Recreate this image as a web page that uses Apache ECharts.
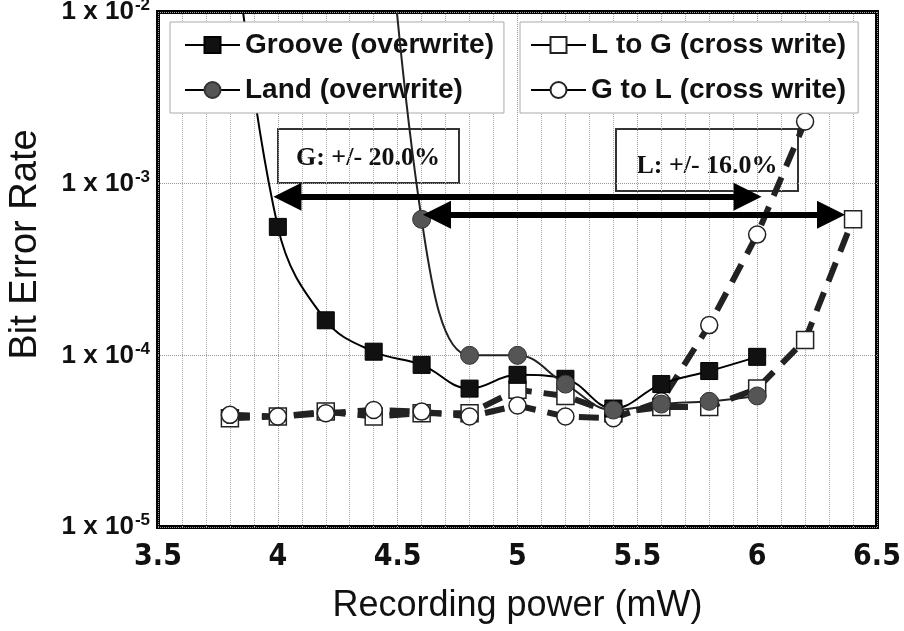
<!DOCTYPE html>
<html>
<head>
<meta charset="utf-8">
<script src="https://cdn.jsdelivr.net/npm/echarts@6/dist/echarts.min.js"></script>
<style>
  html, body { margin: 0; padding: 0; background: #fff; }
  #chart { width: 904px; height: 631px; }
</style>
</head>
<body>
<div id="chart"></div>
<script>
// recording power (mW), one entry per measured step
const power = [3.8, 4.0, 4.2, 4.4, 4.6, 4.8, 5.0, 5.2, 5.4, 5.6, 5.8, 6.0, 6.2, 6.4];

// bit error rates read off the plot (null = not measured)
// first points of the overwrite curves lie above the top of the axis
const grooveBer = [5e-2, 5.6e-4, 1.6e-4, 1.05e-4, 8.8e-5, 6.4e-5, 7.7e-5, 7.3e-5, 4.9e-5, 6.8e-5, 8.1e-5, 9.8e-5, null, null];
const landBer   = [null, null, null, 5e-1, 6.2e-4, 1.0e-4, 1.0e-4, 6.8e-5, 4.8e-5, 5.2e-5, 5.4e-5, 5.8e-5, null, null];
const lToGBer   = [4.3e-5, 4.4e-5, 4.7e-5, 4.4e-5, 4.6e-5, 4.6e-5, 6.3e-5, 5.8e-5, 4.6e-5, 5.0e-5, 5.0e-5, 6.4e-5, 1.23e-4, 6.2e-4];
const gToLBer   = [4.5e-5, 4.4e-5, 4.6e-5, 4.8e-5, 4.7e-5, 4.4e-5, 5.1e-5, 4.4e-5, 4.3e-5, 5.4e-5, 1.5e-4, 5.05e-4, 2.3e-3, null];

const threshold = 5e-4;

// power margin arrows: [from, to, ber]
const grooveMargin = [4.04, 5.96, 8.4e-4];
const landMargin = [4.664, 6.308, 6.6e-4];

// log minor grid: 2..9 x each decade
const decades = [1e-5, 1e-4, 1e-3];
const minorLevels = [];
decades.forEach(d => { for (let k = 2; k <= 9; k++) minorLevels.push(k * d); });

function pairs(values) {
  const out = [];
  values.forEach((v, i) => { if (v != null) out.push([power[i], v]); });
  return out;
}

const FONT = "'Liberation Sans', Arial, sans-serif";

const chart = echarts.init(document.getElementById('chart'));

const option = {
  animation: false,
  backgroundColor: '#fff',
  grid: {
    left: 158, top: 12, width: 719, height: 515,
    outerBoundsMode: 'none', containLabel: false,
    show: true, borderColor: '#000', borderWidth: 4, backgroundColor: 'transparent'
  },
  legend: [
    {
      orient: 'vertical', left: 170, top: 22,
      padding: [9, 10, 9, 14], itemGap: 17,
      itemWidth: 55, itemHeight: 20, itemTextGap: 8,
      backgroundColor: '#fff', borderColor: '#aaa', borderWidth: 1,
      selectedMode: false,
      textStyle: { fontFamily: FONT, fontWeight: 'bold', fontSize: 28, color: '#111' },
      lineStyle: { type: 'solid', width: 2, color: '#000' },
      data: ['Groove (overwrite)', 'Land (overwrite)']
    },
    {
      orient: 'vertical', left: 520, top: 22,
      padding: [9, 12, 9, 10], itemGap: 17,
      itemWidth: 55, itemHeight: 20, itemTextGap: 8,
      backgroundColor: '#fff', borderColor: '#aaa', borderWidth: 1,
      selectedMode: false,
      textStyle: { fontFamily: FONT, fontWeight: 'bold', fontSize: 28, color: '#111' },
      lineStyle: { type: 'solid', width: 2, color: '#000' },
      data: ['L to G (cross write)', 'G to L (cross write)']
    }
  ],
  xAxis: {
    type: 'value', min: 3.5, max: 6.5, interval: 0.5,
    name: 'Recording power (mW)', nameLocation: 'middle', nameGap: 61,
    nameTextStyle: { fontFamily: FONT, fontSize: 36, color: '#111' },
    axisLine: { show: false },
    axisTick: { show: false },
    axisLabel: {
      margin: 15, color: '#111', fontSize: 30, fontWeight: 'bold',
      fontFamily: "'DejaVu Sans Condensed', " + FONT
    },
    splitLine: { lineStyle: { color: '#999', type: 'dotted', width: 1 } },
    minorTick: { show: false, splitNumber: 5 },
    minorSplitLine: { show: true, lineStyle: { color: '#aaa', type: 'dotted', width: 1 } }
  },
  yAxis: {
    type: 'log', logBase: 10, min: 1e-5, max: 1e-2,
    name: 'Bit Error Rate', nameLocation: 'middle', nameGap: 113,
    nameTextStyle: { fontFamily: FONT, fontSize: 38, color: '#111', padding: [0, 0, 0, 50] },
    axisLine: { show: false },
    axisTick: { show: false },
    axisLabel: {
      margin: 8, color: '#111',
      formatter: v => '{a|1 x 10}{b|' + Math.round(Math.log10(v)) + '}',
      rich: {
        a: { fontFamily: FONT, fontSize: 26, fontWeight: 'bold', color: '#111', lineHeight: 30 },
        b: { fontFamily: FONT, fontSize: 17, fontWeight: 'bold', color: '#111', verticalAlign: 'top', lineHeight: 30, padding: [0, 0, 10, 1] }
      }
    },
    splitLine: { lineStyle: { color: '#999', type: 'dotted', width: 1 } }
  },
  series: [
    {
      name: 'L to G (cross write)', type: 'line', z: 2,
      data: pairs(lToGBer),
      symbol: 'rect', symbolSize: 17,
      itemStyle: { color: '#fff', borderColor: '#222', borderWidth: 1.5 },
      lineStyle: { color: '#222', width: 6, type: [20, 12] },
      markLine: {
        silent: true, symbol: 'none', label: { show: false },
        lineStyle: { color: '#aaa', type: 'dotted', width: 1 },
        data: minorLevels.map(v => ({ yAxis: v }))
      }
    },
    {
      name: 'G to L (cross write)', type: 'line', z: 2,
      data: pairs(gToLBer),
      symbol: 'circle', symbolSize: 17,
      itemStyle: { color: '#fff', borderColor: '#222', borderWidth: 1.5 },
      lineStyle: { color: '#222', width: 6, type: [20, 12] },
      markLine: {
        silent: true, symbol: 'none', label: { show: false },
        lineStyle: { color: '#222', type: 'solid', width: 2.5 },
        data: [{ yAxis: threshold }]
      }
    },
    {
      name: 'Groove (overwrite)', type: 'line', z: 3, smooth: 0.4,
      data: pairs(grooveBer),
      symbol: 'rect', symbolSize: 17,
      itemStyle: { color: '#111', borderColor: '#000', borderWidth: 1 },
      lineStyle: { color: '#000', width: 2 },
      markLine: {
        silent: true, symbol: ['triangle', 'triangle'], symbolSize: 28,
        label: { show: false },
        lineStyle: { color: '#000', type: 'solid', width: 6 },
        data: [
          [{ coord: [grooveMargin[0], grooveMargin[2]] }, { coord: [grooveMargin[1], grooveMargin[2]] }],
          [{ coord: [landMargin[0], landMargin[2]] }, { coord: [landMargin[1], landMargin[2]] }]
        ]
      }
    },
    {
      name: 'Land (overwrite)', type: 'line', z: 4, smooth: 0.4,
      data: pairs(landBer),
      symbol: 'circle', symbolSize: 18,
      itemStyle: { color: '#555', borderColor: '#333', borderWidth: 1 },
      lineStyle: { color: '#222', width: 2 }
    }
  ],
  graphic: [
    {
      type: 'group', left: 277, top: 128, z: 100,
      children: [
        { type: 'rect', shape: { x: 0, y: 0, width: 181, height: 54 },
          style: { fill: '#fff', stroke: '#333', lineWidth: 2 } },
        { type: 'text', x: 90, y: 29,
          style: { text: 'G: +/- 20.0%', fill: '#111', align: 'center', verticalAlign: 'middle',
                   font: "bold 26px 'Liberation Serif', 'Times New Roman', serif" } }
      ]
    },
    {
      type: 'group', left: 615, top: 128, z: 100,
      children: [
        { type: 'rect', shape: { x: 0, y: 0, width: 182, height: 62 },
          style: { fill: '#fff', stroke: '#333', lineWidth: 2 } },
        { type: 'text', x: 91, y: 37,
          style: { text: 'L: +/- 16.0%', fill: '#111', align: 'center', verticalAlign: 'middle',
                   font: "bold 26px 'Liberation Serif', 'Times New Roman', serif" } }
      ]
    }
  ]
};

chart.setOption(option);
</script>
</body>
</html>
